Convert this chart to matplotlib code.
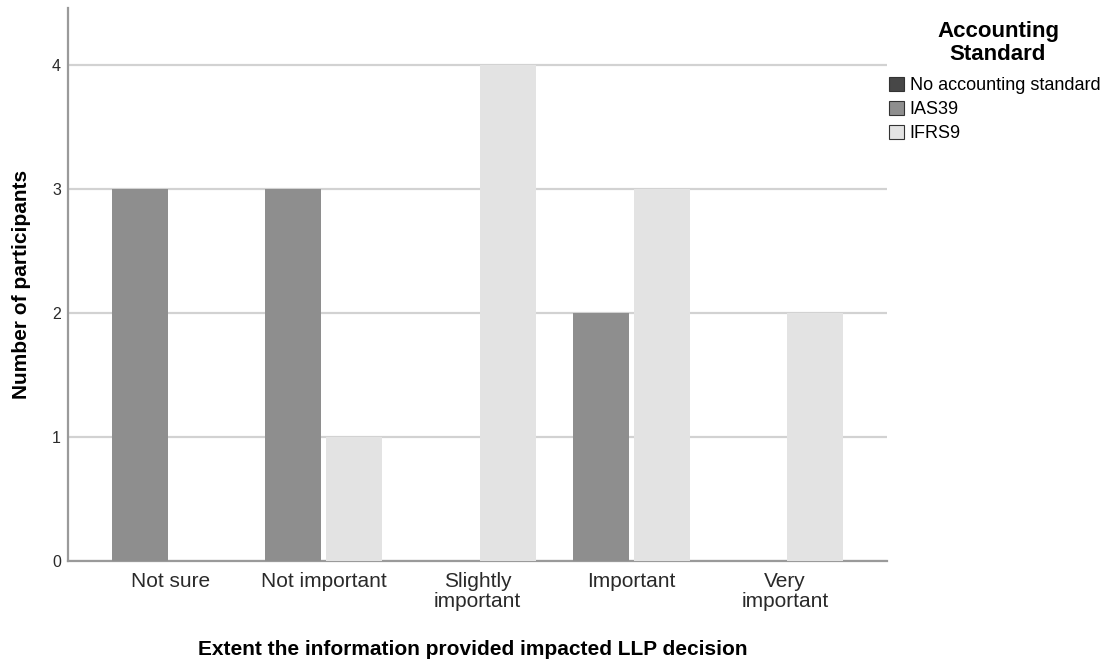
import numpy as np
import matplotlib
matplotlib.use('Agg')
import matplotlib.pyplot as plt
from matplotlib.patches import Patch

plt.rcParams['font.family'] = ['Liberation Sans', 'DejaVu Sans']

# data
categories = ['Not sure', 'Not important', 'Slightly\nimportant', 'Important', 'Very\nimportant']
series_names = ['No accounting standard', 'IAS39', 'IFRS9']
no_standard = [0, 0, 0, 0, 0]
ias39 = [3, 3, 0, 2, 0]
ifrs9 = [0, 1, 4, 3, 2]
yticks = [0, 1, 2, 3, 4]

colors = ['#474747', '#8e8e8e', '#e3e3e3']

fig = plt.figure(figsize=(11.09, 6.64), dpi=100)
ax = fig.add_axes([68 / 1109, 1 - 561 / 664, (887 - 68) / 1109, (561 - 8) / 664])

x = np.arange(len(categories))
width = 0.365
offset = 0.199

# the empty group takes no room in the clusters, same as the original
ax.bar(x, no_standard, width, color=colors[0], linewidth=0, zorder=3)
ax.bar(x - offset, ias39, width, color=colors[1], linewidth=0, zorder=3)
ax.bar(x + offset, ifrs9, width, color=colors[2], linewidth=0, zorder=3)

ax.set_xlim(-0.665, len(categories) - 1 + 0.665)
ax.set_ylim(0, 4.46)
ax.set_yticks(yticks)
ax.set_xticks(x)
ax.set_xticklabels(categories, fontsize=15, linespacing=1.05, color='#2a2a2a')
ax.tick_params(axis='x', length=0, pad=8)
ax.tick_params(axis='y', length=0, pad=5, labelsize=11.5, labelcolor='#2a2a2a')

ax.grid(axis='y', color='#d2d2d2', linewidth=1.6, zorder=0)
for s in ['top', 'right']:
    ax.spines[s].set_visible(False)
for s in ['left', 'bottom']:
    ax.spines[s].set_color('#9a9a9a')
    ax.spines[s].set_linewidth(1.6)

ax.set_ylabel('Number of participants', fontsize=15, fontweight='bold')
ax.yaxis.set_label_coords(-0.045, 0.5)
ax.set_xlabel('Extent the information provided impacted LLP decision', fontsize=15, fontweight='bold')
ax.xaxis.set_label_coords(0.494, -0.142)

# legend title drawn on its own so the gap below it matches
fig.text(998 / 1109, 1 - 21 / 664, 'Accounting\nStandard', ha='center', va='top',
         multialignment='center', fontsize=16, fontweight='bold', linespacing=1.12)

handles = [Patch(facecolor=c, edgecolor='#333333', linewidth=0.8) for c in colors]
leg = fig.legend(handles, series_names, loc='upper left',
                 bbox_to_anchor=(889 / 1109, 1 - 77 / 664), frameon=False,
                 fontsize=13, handlelength=0.85, handleheight=0.85, handletextpad=0.3,
                 labelspacing=0.36, borderpad=0, borderaxespad=0)

fig.savefig('out.png', dpi=100)
